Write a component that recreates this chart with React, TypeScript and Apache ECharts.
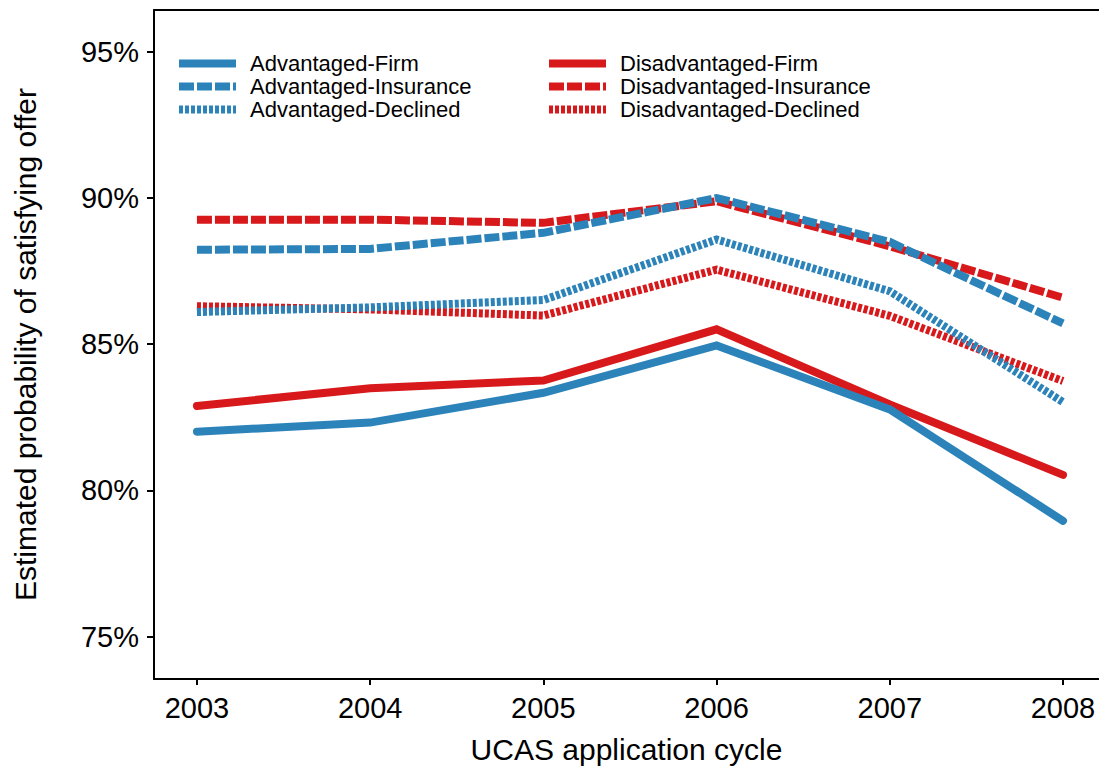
import React, { useEffect, useRef } from "react";
import * as echarts from "echarts";

const years = [2003, 2004, 2005, 2006, 2007, 2008];
const yTicks = [75, 80, 85, 90, 95];
const advFirm = [82.01, 82.32, 83.34, 84.96, 82.77, 78.96];
const disFirm = [82.89, 83.49, 83.76, 85.51, 82.94, 80.53];
const advIns = [88.23, 88.26, 88.81, 90.0, 88.5, 85.71];
const disIns = [89.26, 89.26, 89.15, 89.89, 88.35, 86.59];
const advDec = [86.1, 86.26, 86.51, 88.58, 86.81, 83.02];
const disDec = [86.3, 86.19, 85.98, 87.55, 85.97, 83.74];

const BLUE = "#2b83ba";
const RED = "#d7191c";
const FONT = "Liberation Sans";

const pairs = (vals: number[]) => years.map((y, i) => [y, vals[i]]);

export default function App() {
  const ref = useRef<HTMLDivElement>(null);
  useEffect(() => {
    if (!ref.current) return;
    const chart = echarts.init(ref.current, null, { renderer: "svg" });
    const mk = (name: string, vals: number[], color: string, kind: string) => ({
      name,
      type: "line",
      data: pairs(vals),
      symbol: "none",
      silent: true,
      lineStyle: {
        color,
        width: 8,
        type: kind === "solid" ? "solid" : kind === "dashed" ? [15, 3] : [4, 2],
        cap: kind === "solid" ? "round" : "butt",
        join: "miter",
      },
      itemStyle: { color },
    });
    const legendCommon = {
      orient: "vertical",
      top: 52,
      padding: 0,
      itemGap: 0,
      itemWidth: 57,
      itemHeight: 8,
      selectedMode: false,
      itemStyle: { opacity: 0 },
      lineStyle: { width: 8, cap: "butt" },
      textStyle: {
        fontFamily: FONT,
        fontSize: 22,
        lineHeight: 23,
        color: "#000",
        padding: [0, 0, 0, 9],
      },
    };
    chart.setOption({
      animation: false,
      backgroundColor: "#fff",
      textStyle: { fontFamily: FONT },
      grid: { left: 154, right: 0, top: 10, bottom: 89, containLabel: false },
      legend: [
        {
          ...legendCommon,
          left: 175,
          data: ["Advantaged-Firm", "Advantaged-Insurance", "Advantaged-Declined"],
        },
        {
          ...legendCommon,
          left: 545,
          data: ["Disadvantaged-Firm", "Disadvantaged-Insurance", "Disadvantaged-Declined"],
        },
      ],
      xAxis: [
        {
          type: "value",
          min: 2002.752,
          max: 2008.208,
          name: "UCAS application cycle",
          nameLocation: "middle",
          nameGap: 55,
          nameTextStyle: { fontFamily: FONT, fontSize: 30, color: "#000" },
          axisLine: { show: true, onZero: false, lineStyle: { color: "#000", width: 2 } },
          axisTick: { show: true, length: 6, customValues: years, lineStyle: { color: "#000", width: 2 } },
          axisLabel: {
            customValues: years,
            formatter: (v: number) => String(v),
            fontFamily: FONT,
            fontSize: 29,
            color: "#000",
            margin: 14,
          },
          splitLine: { show: false },
        },
        {
          type: "value",
          position: "top",
          min: 2002.752,
          max: 2008.208,
          axisLine: { show: true, onZero: false, lineStyle: { color: "#000", width: 2 } },
          axisTick: { show: false },
          axisLabel: { show: false },
          splitLine: { show: false },
        },
      ],
      yAxis: {
        type: "value",
        min: 73.55,
        max: 96.43,
        name: "Estimated probability of satisfying offer",
        nameLocation: "middle",
        nameGap: 114,
        nameTextStyle: { fontFamily: FONT, fontSize: 30, color: "#000" },
        axisLine: { show: true, onZero: false, lineStyle: { color: "#000", width: 2 } },
        axisTick: { show: true, length: 7, customValues: yTicks, lineStyle: { color: "#000", width: 2 } },
        axisLabel: {
          customValues: yTicks,
          formatter: (v: number) => v + "%",
          fontFamily: FONT,
          fontSize: 29,
          color: "#000",
          margin: 15,
        },
        splitLine: { show: false },
      },
      series: [
        mk("Disadvantaged-Firm", disFirm, RED, "solid"),
        mk("Disadvantaged-Insurance", disIns, RED, "dashed"),
        mk("Disadvantaged-Declined", disDec, RED, "dotted"),
        mk("Advantaged-Firm", advFirm, BLUE, "solid"),
        mk("Advantaged-Insurance", advIns, BLUE, "dashed"),
        mk("Advantaged-Declined", advDec, BLUE, "dotted"),
      ],
    });
    return () => chart.dispose();
  }, []);
  return (
    <div
      ref={ref}
      style={{ position: "fixed", left: 0, top: 0, width: 1099, height: 769, background: "#fff" }}
    />
  );
}
